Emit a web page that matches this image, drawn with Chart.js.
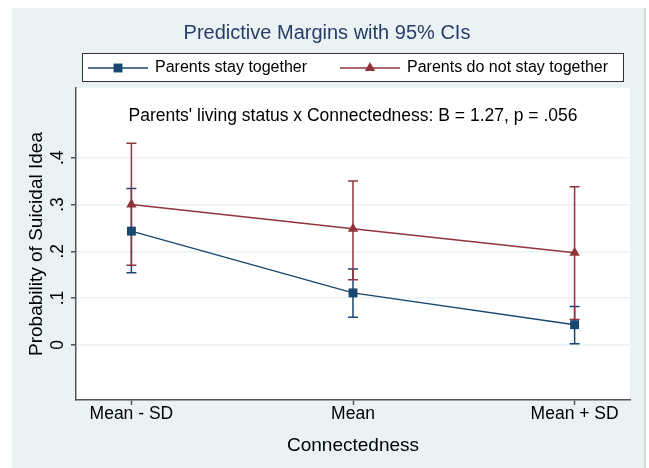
<!DOCTYPE html>
<html>
<head>
<meta charset="utf-8">
<script src="https://cdn.jsdelivr.net/npm/chart.js@4.4.1/dist/chart.umd.min.js"></script>
<style>
  html, body { margin: 0; padding: 0; background: #fff; }
  #wrap { width: 649px; height: 468px; }
</style>
</head>
<body>
<div id="wrap"><canvas id="grafico" width="649" height="468"></canvas></div>
<script>
// dados
const categorias = ["Mean - SD", "Mean", "Mean + SD"];

const juntos = [0.243, 0.111, 0.043];
const juntosMin = [0.154, 0.059, 0.002];
const juntosMax = [0.334, 0.162, 0.082];

const separados = [0.300, 0.248, 0.197];
const separadosMin = [0.170, 0.139, 0.054];
const separadosMax = [0.431, 0.350, 0.338];

const ticksY = [0, 0.1, 0.2, 0.3, 0.4];
const rotulosY = ["0", ".1", ".2", ".3", ".4"];

const AZUL = "#1a476f";
const VERMELHO = "#90353b";
const FONTE = "'Liberation Sans', Arial, Helvetica, sans-serif";

// fundo da página e da área do gráfico
const fundo = {
  id: "fundo",
  beforeDraw(chart) {
    const ctx = chart.ctx;
    const a = chart.chartArea;
    ctx.save();
    ctx.fillStyle = "#eaf2f3";
    ctx.fillRect(12, 8, 632, 460);
    ctx.fillStyle = "#d9dcdc";
    ctx.fillRect(644, 8, 2, 460);
    ctx.fillStyle = "#ffffff";
    ctx.fillRect(a.left, a.top, a.right - a.left, a.bottom - a.top);
    ctx.restore();
  },
};

// barras de erro (IC 95%)
const barrasErro = {
  id: "barrasErro",
  beforeDatasetsDraw(chart) {
    const ctx = chart.ctx;
    const x = chart.scales.x;
    const y = chart.scales.y;
    const grupos = [
      [juntosMin, juntosMax, AZUL],
      [separadosMin, separadosMax, VERMELHO],
    ];
    ctx.save();
    ctx.lineWidth = 1.5;
    grupos.forEach(([lo, hi, cor]) => {
      ctx.strokeStyle = cor;
      categorias.forEach((c, i) => {
        const px = x.getPixelForValue(i);
        const y1 = y.getPixelForValue(lo[i]);
        const y2 = y.getPixelForValue(hi[i]);
        ctx.beginPath();
        ctx.moveTo(px, y1);
        ctx.lineTo(px, y2);
        ctx.moveTo(px - 5, y1);
        ctx.lineTo(px + 5, y1);
        ctx.moveTo(px - 5, y2);
        ctx.lineTo(px + 5, y2);
        ctx.stroke();
      });
    });
    ctx.restore();
  },
};

// textos: título, legenda, anotação, eixos
const textos = {
  id: "textos",
  afterDraw(chart) {
    const ctx = chart.ctx;
    const x = chart.scales.x;
    const y = chart.scales.y;
    ctx.save();

    // título
    ctx.fillStyle = "#283c6a";
    ctx.font = "20px " + FONTE;
    ctx.textAlign = "center";
    ctx.textBaseline = "middle";
    ctx.fillText("Predictive Margins with 95% CIs", 327, 33);

    // legenda
    ctx.fillStyle = "#fff";
    ctx.fillRect(82, 53, 542, 29);
    ctx.strokeStyle = "#333";
    ctx.lineWidth = 1;
    ctx.strokeRect(82.5, 53.5, 541, 28);

    const itens = [
      [88, "Parents stay together", AZUL, "rect", 6.3],
      [340, "Parents do not stay together", VERMELHO, "triangle", 6],
    ];
    itens.forEach(([x0, texto, cor, estilo, raio]) => {
      ctx.strokeStyle = cor;
      ctx.lineWidth = 1.5;
      ctx.beginPath();
      ctx.moveTo(x0, 68);
      ctx.lineTo(x0 + 60, 68);
      ctx.stroke();
      ctx.fillStyle = cor;
      Chart.helpers.drawPoint(ctx, { pointStyle: estilo, radius: raio, borderWidth: 0 }, x0 + 30, 68);
      ctx.fillStyle = "#000";
      ctx.font = "16px " + FONTE;
      ctx.textAlign = "left";
      ctx.fillText(texto, x0 + 67, 68);
    });

    // anotação
    ctx.fillStyle = "#000";
    ctx.font = "17.5px " + FONTE;
    ctx.textAlign = "center";
    ctx.fillText("Parents' living status x Connectedness: B = 1.27, p = .056", 353, 116);

    // rótulos do eixo x
    ctx.font = "17.5px " + FONTE;
    categorias.forEach((c, i) => {
      ctx.fillText(c, x.getPixelForValue(i), 414);
    });
    ctx.font = "19px " + FONTE;
    ctx.fillText("Connectedness", (chart.chartArea.left + chart.chartArea.right) / 2, 446);

    // rótulos do eixo y (rotacionados)
    ctx.font = "17.5px " + FONTE;
    ticksY.forEach((v, i) => {
      ctx.save();
      ctx.translate(58, y.getPixelForValue(v));
      ctx.rotate(-Math.PI / 2);
      ctx.fillText(rotulosY[i], 0, 0);
      ctx.restore();
    });
    ctx.save();
    ctx.font = "19px " + FONTE;
    ctx.translate(37, (chart.chartArea.top + chart.chartArea.bottom) / 2);
    ctx.rotate(-Math.PI / 2);
    ctx.fillText("Probability of Suicidal Idea", 0, 0);
    ctx.restore();

    ctx.restore();
  },
};

const grafico = new Chart(document.getElementById("grafico"), {
  type: "line",
  data: {
    datasets: [
      {
        label: "Parents stay together",
        data: juntos.map((v, i) => ({ x: i, y: v })),
        borderColor: AZUL,
        backgroundColor: AZUL,
        borderWidth: 1.5,
        pointStyle: "rect",
        pointRadius: 6.3,
        pointBorderWidth: 0,
      },
      {
        label: "Parents do not stay together",
        data: separados.map((v, i) => ({ x: i, y: v })),
        borderColor: VERMELHO,
        backgroundColor: VERMELHO,
        borderWidth: 1.5,
        pointStyle: "triangle",
        pointRadius: 6,
        pointBorderWidth: 0,
      },
    ],
  },
  options: {
    responsive: false,
    animation: false,
    layout: {
      padding: { left: 12, right: 19, top: 88, bottom: 0 },
    },
    plugins: {
      legend: { display: false },
      title: { display: false },
      tooltip: { enabled: false },
    },
    scales: {
      x: {
        type: "linear",
        min: -0.25,
        max: 2.25,
        afterBuildTicks: (s) => {
          s.ticks = categorias.map((c, i) => ({ value: i }));
        },
        afterFit: (s) => {
          s.height = 68;
        },
        ticks: { display: false },
        grid: {
          drawOnChartArea: false,
          tickLength: 5,
          tickColor: "#555",
          tickWidth: 1.5,
        },
        border: { color: "#555", width: 1.5 },
      },
      y: {
        min: -0.118,
        max: 0.549,
        afterBuildTicks: (s) => {
          s.ticks = ticksY.map((v) => ({ value: v }));
        },
        afterFit: (s) => {
          s.width = 64;
        },
        ticks: { display: false },
        grid: {
          color: "#eaf2f3",
          lineWidth: 1.5,
          tickLength: 5,
          tickColor: "#555",
          tickWidth: 1.5,
        },
        border: { color: "#555", width: 1.5 },
      },
    },
  },
  plugins: [fundo, barrasErro, textos],
});
</script>
</body>
</html>
